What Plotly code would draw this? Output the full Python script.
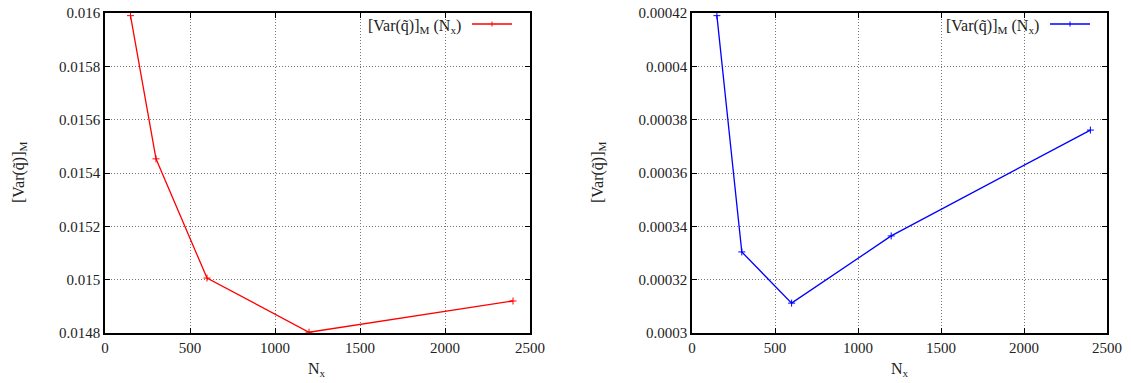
import plotly.graph_objects as go
from plotly.subplots import make_subplots

nx = [150, 300, 600, 1200, 2400]
var_left = [0.01599, 0.015453, 0.015006, 0.014803, 0.014920]
var_right = [0.000419, 0.0003304, 0.0003112, 0.0003364, 0.0003761]

x_ticks = [0, 500, 1000, 1500, 2000, 2500]
left_ticks = [0.0148, 0.015, 0.0152, 0.0154, 0.0156, 0.0158, 0.016]
left_labels = ["0.0148", "0.015", "0.0152", "0.0154", "0.0156", "0.0158", "0.016"]
right_ticks = [0.0003, 0.00032, 0.00034, 0.00036, 0.00038, 0.0004, 0.00042]
right_labels = ["0.0003", "0.00032", "0.00034", "0.00036", "0.00038", "0.0004", "0.00042"]

legend_text = "[Var(q\u0303)]<sub>M</sub> (N<sub>x</sub>)"
ytitle = "[Var(q\u0303)]<sub>M</sub>"
xtitle = "N<sub>x</sub>"

FONT = "Liberation Serif"
W, H = 1131, 383

fig = make_subplots(rows=1, cols=2)
fig.add_trace(go.Scatter(x=nx, y=var_left, mode="lines+markers",
                         line=dict(color="#ff0000", width=1.3),
                         marker=dict(symbol="cross-thin", size=5, line=dict(color="#ff0000", width=1)),
                         showlegend=False), row=1, col=1)
fig.add_trace(go.Scatter(x=nx, y=var_right, mode="lines+markers",
                         line=dict(color="#0000ff", width=1.3),
                         marker=dict(symbol="cross-thin", size=5, line=dict(color="#0000ff", width=1)),
                         showlegend=False), row=1, col=2)

def px_x(p):
    return p / W

def px_y(p):
    return 1 - p / H

ydom = [px_y(333), px_y(13)]
axis_common = dict(showline=True, linecolor="black", linewidth=1.5, mirror="ticks",
                   ticks="inside", ticklen=5, tickcolor="black", tickwidth=1,
                   showgrid=True, gridcolor="#777777", griddash="1px,2px", gridwidth=1,
                   zeroline=False, automargin=False,
                   tickfont=dict(family=FONT, size=15, color="#222222"))

fig.update_xaxes(**axis_common, range=[0, 2500], tickvals=x_ticks)
fig.update_xaxes(domain=[px_x(105), px_x(530)], row=1, col=1)
fig.update_xaxes(domain=[px_x(692), px_x(1107)], row=1, col=2)
fig.update_yaxes(**axis_common, domain=ydom)
fig.update_yaxes(range=[0.0148, 0.016], tickvals=left_ticks, ticktext=left_labels, row=1, col=1)
fig.update_yaxes(range=[0.0003, 0.00042], tickvals=right_ticks, ticktext=right_labels, row=1, col=2)

annotations = []
shapes = []
tfont = dict(family=FONT, size=16, color="#222222")
for cx, ty_x, leg_x, line_x0, line_x1, color in [
        ((105 + 530) / 2, 19, 463, 472, 512, "#ff0000"),
        ((692 + 1107) / 2, 598, 1041, 1050, 1090, "#0000ff")]:
    annotations.append(dict(text=xtitle, x=px_x(cx), y=px_y(369), xref="paper", yref="paper",
                            showarrow=False, font=tfont, xanchor="center", yanchor="middle"))
    annotations.append(dict(text=ytitle, x=px_x(ty_x), y=px_y(172), xref="paper", yref="paper",
                            showarrow=False, font=tfont, textangle=-90,
                            xanchor="center", yanchor="middle"))
    annotations.append(dict(text=legend_text, x=px_x(leg_x), y=px_y(26), xref="paper", yref="paper",
                            showarrow=False, font=tfont, xanchor="right", yanchor="middle"))
    shapes.append(dict(type="line", xref="paper", yref="paper",
                       x0=px_x(line_x0), x1=px_x(line_x1), y0=px_y(24), y1=px_y(24),
                       line=dict(color=color, width=1.3)))
    mid = (line_x0 + line_x1) / 2
    shapes.append(dict(type="line", xref="paper", yref="paper",
                       x0=px_x(mid), x1=px_x(mid), y0=px_y(21.5), y1=px_y(26.5),
                       line=dict(color=color, width=1)))

fig.update_layout(width=W, height=H, margin=dict(l=0, r=0, t=0, b=0, autoexpand=False),
                  paper_bgcolor="white", plot_bgcolor="white",
                  annotations=annotations, shapes=shapes,
                  font=dict(family=FONT))

fig.write_html("out.html", config={"displayModeBar": False},
               post_script="document.body.style.margin='0';document.body.style.overflow='hidden';")
